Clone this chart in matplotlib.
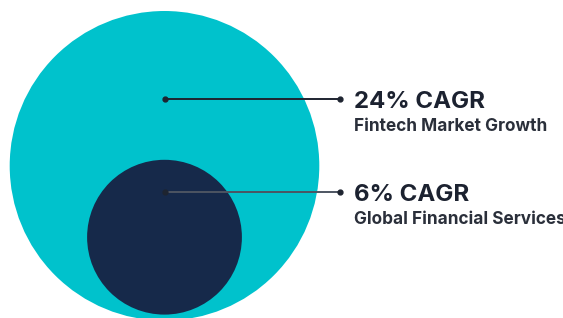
import matplotlib
matplotlib.use("Agg")
import matplotlib.pyplot as plt
from matplotlib.patches import Circle
import numpy as np

# Data
labels = ["24% CAGR", "6% CAGR"]
sublabels = ["Fintech Market Growth", "Global Financial Services"]
cagr = [24, 6]
colors = ["#00C2CC", "#16294A"]

W, H = 563, 318
fig = plt.figure(figsize=(W / 100, H / 100), dpi=100)
ax = fig.add_axes([0, 0, 1, 1])
ax.set_xlim(0, W)
ax.set_ylim(H, 0)
ax.set_aspect("equal")
ax.axis("off")

k = 154.8 / np.sqrt(cagr[0])
radii = [k * np.sqrt(v) for v in cagr]
cx = 164.5
centers_y = [165.8, 237.2]
for r, cy, c in zip(radii, centers_y, colors):
    ax.add_patch(Circle((cx, cy), r, facecolor=c, edgecolor="none", zorder=1))

line_y = [98.7, 191.7]
line_colors = ["#1e2430", "#4d5562"]
x0, x1 = 165, 339.5
text_x = 354.5
font = "Inter"
for ly, lc, lab, sub in zip(line_y, line_colors, labels, sublabels):
    ax.plot([x0, x1], [ly, ly], color=lc, lw=1.4, zorder=3, solid_capstyle="butt")
    ax.plot([x0, x1], [ly, ly], "o", color="#1e2430", ms=3.5, zorder=4)
    ax.text(text_x, ly + 3, lab, fontsize=17.3, fontweight="bold", family=font,
            color="#1c2230", va="center", ha="left")
    ax.text(text_x, ly + 28, sub, fontsize=12.4, fontweight="bold", family=font,
            color="#2a2f3a", va="center", ha="left")

fig.savefig("out.png", dpi=100)
